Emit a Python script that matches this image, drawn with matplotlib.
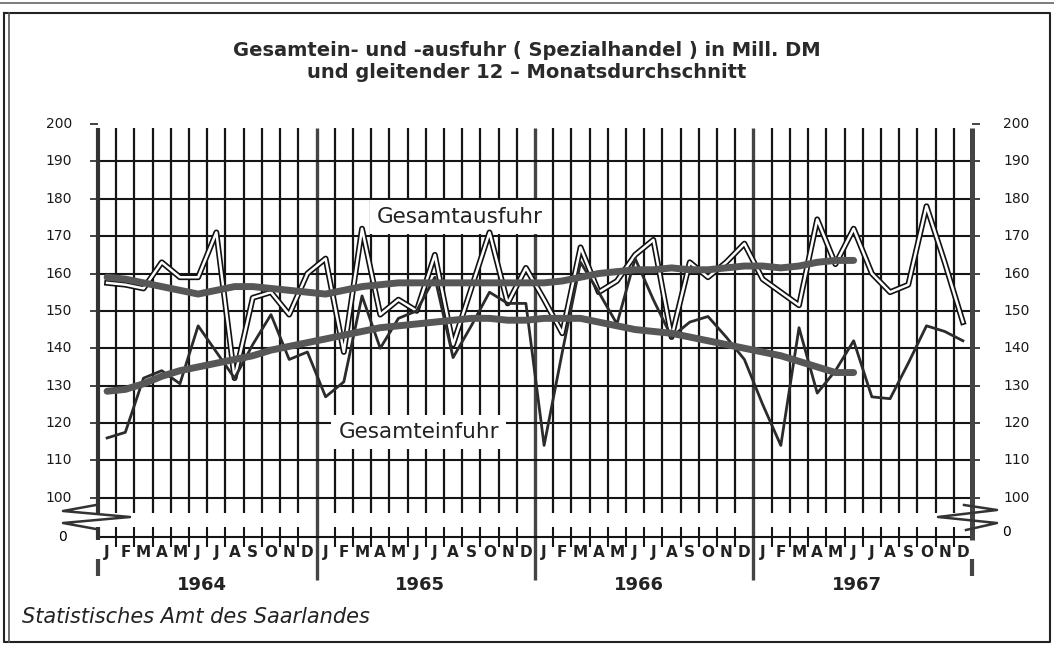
import matplotlib
matplotlib.use('Agg')
import matplotlib.pyplot as plt
from matplotlib.lines import Line2D
from matplotlib.transforms import blended_transform_factory
import numpy as np

# Monatswerte Jan 1964 - Dez 1967 (Mill. DM)
month_labels = ['J', 'F', 'M', 'A', 'M', 'J', 'J', 'A', 'S', 'O', 'N', 'D']
years = ['1964', '1965', '1966', '1967']

ausfuhr = [157.5, 157, 156, 163, 159, 159, 171, 132, 153.5, 155, 149, 160,
           164, 139, 172, 149, 153, 150, 165, 141, 156, 171, 152, 161.5,
           153, 144, 167, 155, 158, 165, 169, 143, 163, 159, 163, 168,
           158.5, 155, 151.5, 174.5, 162.5, 172, 160, 155, 157, 178, 163, 147]

einfuhr = [116, 117.5, 132, 134, 130.5, 146, 139, 132, 141, 149, 137, 139,
           127, 131, 154, 140, 148, 150, 159, 137.5, 146, 155, 152, 152,
           114, 139, 163, 155, 146.5, 164, 153, 143, 147, 148.5, 143, 137,
           125, 114, 145.5, 128, 134, 142, 127, 126.5, 136, 146, 144.5, 142]

# gleitender 12-Monatsdurchschnitt (bis Juni 1967)
ausfuhr_ma = [159, 158.5, 157.5, 156.5, 155.5, 154.5, 155.5, 156.5, 156.5, 156, 155.5, 155,
              154.5, 155.5, 156.5, 157, 157.5, 157.5, 157.5, 157.5, 157.5, 157.5, 157.5, 157.5,
              157.5, 158, 159, 160, 160.5, 161, 161, 161.5, 161, 161, 161.5, 162,
              162, 161.5, 162, 163, 163.5, 163.5]

einfuhr_ma = [128.5, 129, 130.5, 132.5, 134, 135, 136, 137, 138, 139.5, 140.5, 141.5,
              142.5, 143.5, 144.5, 145.5, 146, 146.5, 147, 147.5, 148, 148, 147.5, 147.5,
              148, 148, 148, 147, 146, 145, 144.5, 144, 143, 142, 141, 140,
              139, 138, 136.5, 135, 133.5, 133.5]

y_ticks = [100, 110, 120, 130, 140, 150, 160, 170, 180, 190, 200]
y_zero = 89.5   # Position der "0" unterhalb des Achsenbruchs

W, H = 1054, 648
AX_L, AX_R, AX_T, AX_B = 98, 972, 124, 537
fig = plt.figure(figsize=(W / 100, H / 100), dpi=100)
ax = fig.add_axes([AX_L / W, 1 - AX_B / H, (AX_R - AX_L) / W, (AX_B - AX_T) / H])

n = len(ausfuhr)
x = np.arange(n)
ax.set_xlim(-0.5, n - 0.5)
ax.set_ylim(y_zero, 200)
for s in ax.spines.values():
    s.set_visible(False)

# Pixel -> Datenkoordinaten (nur fuer Schmuckelemente)
def px_x(p):
    return -0.5 + (p - AX_L) / (AX_R - AX_L) * n

def px_y(p):
    return y_zero + (AX_B - p) / (AX_B - AX_T) * (200 - y_zero)

# Gitter
bounds = np.arange(n - 1) + 0.5
year_bounds = [11.5, 23.5, 35.5]
month_bounds = [b for b in bounds if b not in year_bounds]
ax.vlines(month_bounds, 96, 199, color='#151515', lw=1.6, zorder=1)
ax.vlines(year_bounds, px_y(580), 199, color='#444444', lw=2.4, zorder=1, clip_on=False)
for v in y_ticks[:-1]:
    ax.axhline(v, color='#151515', lw=1.5, zorder=1)

# untere Achse mit Strichen
ax.axhline(y_zero, color='#151515', lw=1.5, zorder=1, clip_on=False)
ax.vlines(month_bounds, px_y(547), px_y(527), color='#151515', lw=1.5,
          zorder=1, clip_on=False)

# seitliche Achsen
ax.vlines([-0.5], 96, 199, color='#333333', lw=3.0, zorder=2, clip_on=False)
ax.vlines([-0.5, n - 0.5], px_y(576), px_y(559), color='#444444', lw=3.0,
          zorder=2, clip_on=False)
ax.vlines([-0.5], px_y(540), px_y(527), color='#333333', lw=3.0, zorder=2, clip_on=False)
ax.vlines([n - 0.5], px_y(540), 199, color='#444444', lw=3.6, zorder=2, clip_on=False)

# Achsenbruch-Zeichen
zl_x = [96, 63, 130, 63, 96]
zl_y = [505, 511, 517, 523, 529]
zr_x = [964, 997, 938, 997, 966]
zr_y = [505, 510, 517, 523, 530]
ax.plot([px_x(p) for p in zl_x], [px_y(p) for p in zl_y], color='#333333', lw=1.8,
        clip_on=False, zorder=3)
ax.plot([px_x(p) for p in zr_x], [px_y(p) for p in zr_y], color='#333333', lw=1.8,
        clip_on=False, zorder=3)

# Linien
ax.plot(x, ausfuhr, color='#111111', lw=4.2, solid_joinstyle='round', zorder=4)
ax.plot(x, ausfuhr, color='white', lw=1.8, solid_joinstyle='round', zorder=5)
ax.plot(x, einfuhr, color='#2b2b2b', lw=2.0, zorder=6)
ax.plot(np.arange(len(ausfuhr_ma)), ausfuhr_ma, color='#575757', lw=5.0,
        solid_capstyle='round', zorder=7)
ax.plot(np.arange(len(einfuhr_ma)), einfuhr_ma, color='#575757', lw=5.0,
        solid_capstyle='round', zorder=7)

# Beschriftungen der Linien
ax.text(14.8, 175.2, 'Gesamtausfuhr', fontsize=15.5, color='#222222', va='center',
        zorder=3, bbox=dict(facecolor='white', edgecolor='none', pad=5))
ax.text(12.7, 117.5, 'Gesamteinfuhr', fontsize=15.5, color='#222222', va='center',
        zorder=3, bbox=dict(facecolor='white', edgecolor='none', pad=5))

# y-Beschriftung links und rechts
ax.set_yticks(y_ticks)
ax.set_yticklabels([])
ax.tick_params(axis='y', which='both', left=True, right=True, length=6,
               width=1.2, color='#222222')
for v in y_ticks:
    ax.text(px_x(72), v, str(v), ha='right', va='center', fontsize=10, color='#1a1a1a')
    ax.text(px_x(1003), v, str(v), ha='left', va='center', fontsize=10, color='#1a1a1a')
ax.text(px_x(62), y_zero, '0', ha='center', va='center', fontsize=10)
ax.text(px_x(1007), px_y(532), '0', ha='center', va='center', fontsize=10)

# Monate und Jahre
ax.set_xticks(x)
ax.set_xticklabels(month_labels * len(years), fontsize=11, fontweight='bold',
                   color='#222222')
ax.tick_params(axis='x', length=0, pad=6)
tr = blended_transform_factory(ax.transData, fig.transFigure)
for k, yr in enumerate(years):
    fig.text(5.2 + 12 * k, 1 - 585 / H, yr, transform=tr, ha='center', va='center',
             fontsize=13, fontweight='bold', color='#222222')

# Titel und Quelle
fig.text(0.5, 1 - 51 / H, 'Gesamtein- und -ausfuhr ( Spezialhandel ) in Mill. DM',
         ha='center', va='center', fontsize=14, fontweight='bold', color='#2a2a2a')
fig.text(0.5, 1 - 72 / H, 'und gleitender 12 – Monatsdurchschnitt',
         ha='center', va='center', fontsize=14, fontweight='bold', color='#2a2a2a')
fig.text(22 / W, 1 - 617 / H, 'Statistisches Amt des Saarlandes', ha='left',
         va='center', fontsize=15, style='italic', color='#222222')

# Rahmen
def fig_line(xs, ys, **kw):
    fig.add_artist(Line2D([v / W for v in xs], [1 - v / H for v in ys], **kw))

fig_line([4, 1050, 1050, 4, 4], [13, 13, 642, 642, 13], color='#222222', lw=1.5)
fig_line([9, 9], [13, 642], color='#555555', lw=1.2)
fig_line([0, 1054], [3, 3], color='#666666', lw=1.2)

fig.savefig('out.png', dpi=100)
